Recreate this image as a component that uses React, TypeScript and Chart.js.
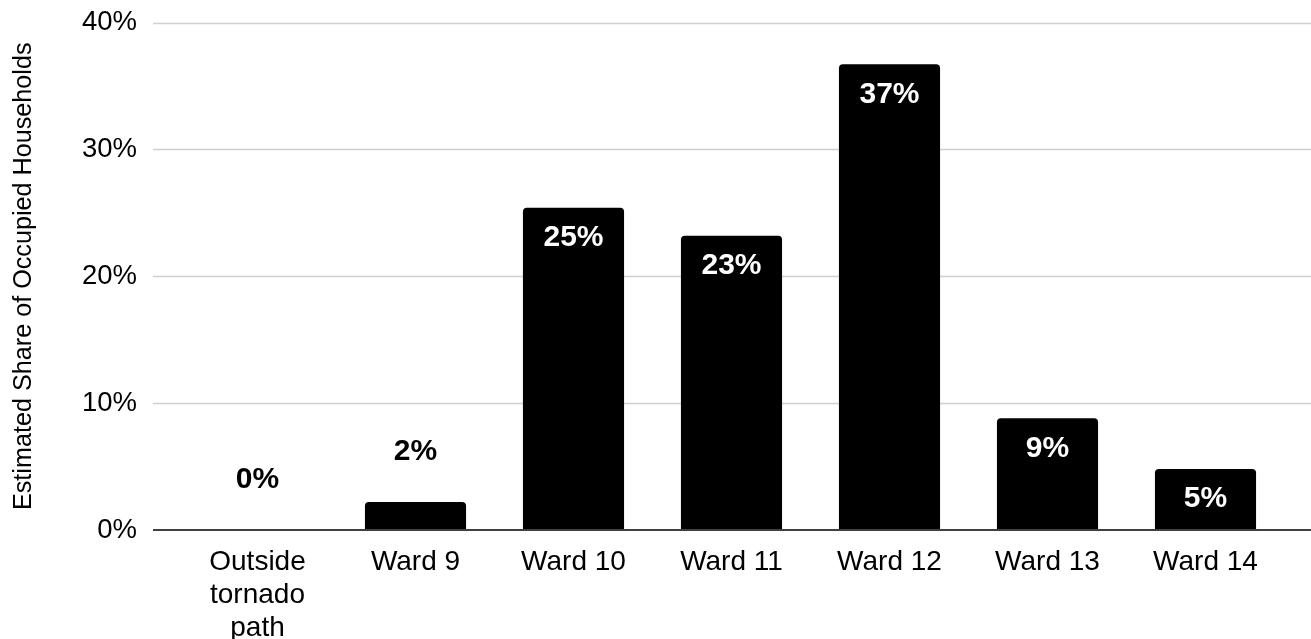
import React, { useEffect, useRef } from "react";
import { Chart, registerables } from "chart.js";

Chart.register(...registerables);

const categories: (string | string[])[] = [
  ["Outside", "tornado", "path"],
  "Ward 9",
  "Ward 10",
  "Ward 11",
  "Ward 12",
  "Ward 13",
  "Ward 14",
];
const shares = [0, 2.2, 25.4, 23.2, 36.7, 8.8, 4.8];
const yTicks = [0, 10, 20, 30, 40];
const axisTitle = "Estimated Share of Occupied Households";

const FONT = "'Liberation Sans', Arial, Helvetica, sans-serif";
const GRID_OVERHANG_LEFT = 25.5;

export default function App() {
  const ref = useRef<HTMLCanvasElement>(null);

  useEffect(() => {
    if (!ref.current) return;

    const gridPlugin = {
      id: "extGrid",
      beforeDatasetsDraw(chart: any) {
        const { ctx, chartArea } = chart;
        const y = chart.scales.y;
        ctx.save();
        yTicks.forEach((v) => {
          if (v === 0) return;
          const py = Math.round(y.getPixelForValue(v)) + 0.5;
          ctx.beginPath();
          ctx.lineWidth = 1.5;
          ctx.strokeStyle = "#d0d0d0";
          ctx.moveTo(chartArea.left - GRID_OVERHANG_LEFT, py);
          ctx.lineTo(chart.width, py);
          ctx.stroke();
        });
        ctx.restore();
      },
      afterDatasetsDraw(chart: any) {
        const { ctx, chartArea } = chart;
        const y = chart.scales.y;
        ctx.save();
        const py = y.getPixelForValue(0);
        ctx.beginPath();
        ctx.lineWidth = 2;
        ctx.strokeStyle = "#404040";
        ctx.moveTo(chartArea.left - GRID_OVERHANG_LEFT, py);
        ctx.lineTo(chart.width, py);
        ctx.stroke();

        const meta = chart.getDatasetMeta(0);
        ctx.font = `bold 30px ${FONT}`;
        ctx.textAlign = "center";
        ctx.textBaseline = "middle";
        meta.data.forEach((bar: any, i: number) => {
          const v = shares[i];
          const inside = v >= 4;
          ctx.fillStyle = inside ? "#ffffff" : "#000000";
          ctx.fillText(`${Math.round(v)}%`, bar.x, inside ? bar.y + 30 : bar.y - 50);
        });
        ctx.restore();
      },
    };

    const chart = new Chart(ref.current, {
      type: "bar",
      data: {
        labels: categories,
        datasets: [
          {
            data: shares,
            backgroundColor: "#000000",
            borderWidth: 0,
            borderRadius: { topLeft: 4, topRight: 4, bottomLeft: 0, bottomRight: 0 },
            borderSkipped: "start",
            categoryPercentage: 1,
            barPercentage: 0.64,
          },
        ],
      },
      options: {
        responsive: false,
        animation: false,
        devicePixelRatio: 1,
        layout: { padding: { top: 22.5, right: 26.5, bottom: 0, left: 0 } },
        plugins: {
          legend: { display: false },
          tooltip: { enabled: false },
        },
        scales: {
          x: {
            offset: true,
            grid: { display: false, drawTicks: true, tickLength: 8 },
            border: { display: false },
            ticks: {
              color: "#000000",
              font: { family: FONT, size: 28, lineHeight: 1.18 },
              padding: 8,
              maxRotation: 0,
              autoSkip: false,
            },
            afterFit(scale: any) {
              scale.height = 109;
            },
          },
          y: {
            min: 0,
            max: 40,
            grid: { display: false, drawTicks: true, tickLength: 41.5 },
            border: { display: false },
            ticks: {
              stepSize: 10,
              color: "#000000",
              font: { family: FONT, size: 27.5 },
              padding: 0,
              callback: (v: any) => `${v}%`,
            },
            title: {
              display: true,
              text: axisTitle,
              color: "#000000",
              font: { family: FONT, size: 25.2 },
              padding: { top: 9, bottom: 0 },
            },
            afterFit(scale: any) {
              scale.width = 178.5;
            },
          },
        },
      },
      plugins: [gridPlugin],
    });

    return () => chart.destroy();
  }, []);

  return (
    <div style={{ position: "fixed", left: 0, top: 0, width: 1311, height: 639, background: "#fff" }}>
      <canvas ref={ref} width={1311} height={639} style={{ display: "block" }} />
    </div>
  );
}
